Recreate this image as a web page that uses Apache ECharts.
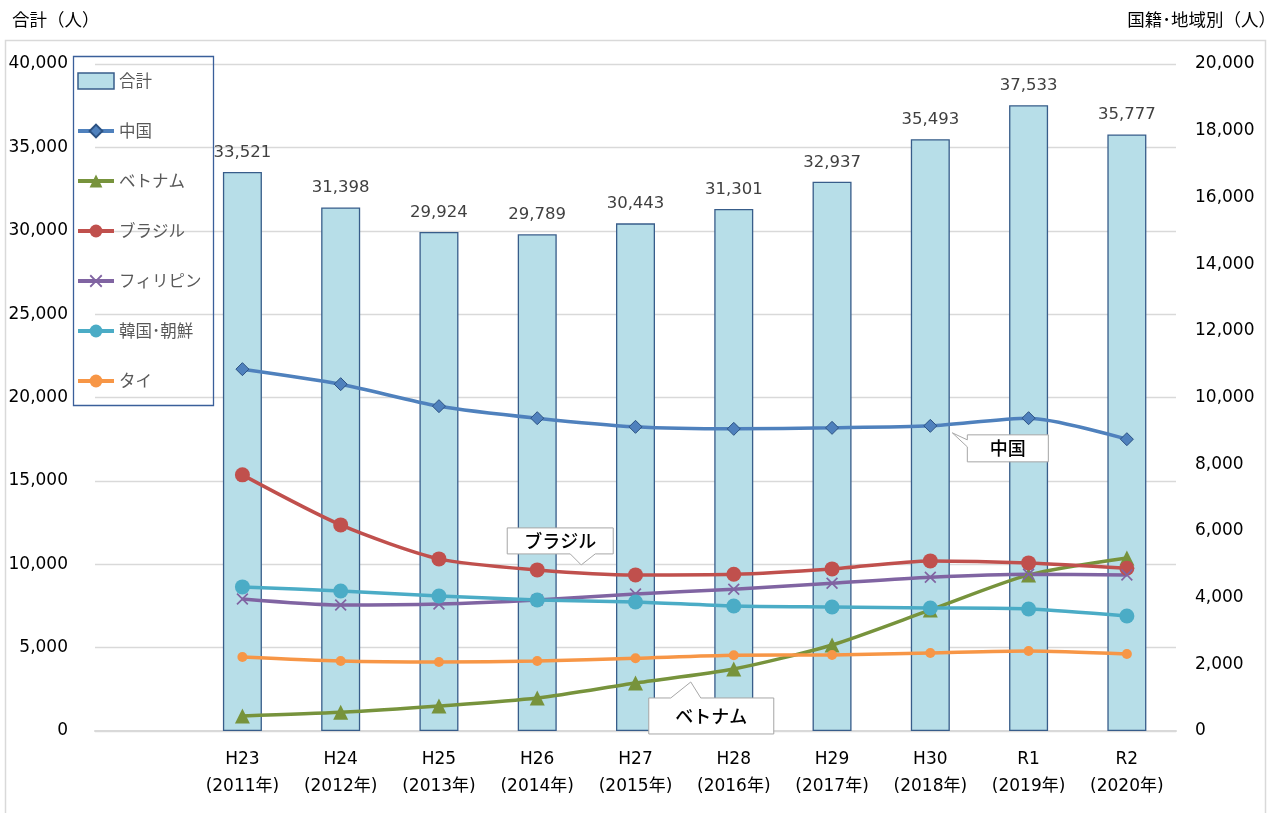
<!DOCTYPE html>
<html>
<head>
<meta charset="utf-8">
<script src="https://cdn.jsdelivr.net/npm/echarts@6/dist/echarts.min.js"></script>
<style>
html,body{margin:0;padding:0;background:#fff;}
#main{width:1283px;height:813px;}
</style>
</head>
<body>
<div id="main"></div>
<script>
// ---- data ----
const categories = ['', 'H23\n(2011年)', 'H24\n(2012年)', 'H25\n(2013年)', 'H26\n(2014年)', 'H27\n(2015年)',
  'H28\n(2016年)', 'H29\n(2017年)', 'H30\n(2018年)', 'R1\n(2019年)', 'R2\n(2020年)'];
const totals      = [null, 33521, 31398, 29924, 29789, 30443, 31301, 32937, 35493, 37533, 35777];
const china       = [null, 10850, 10400, 9740, 9380, 9120, 9060, 9090, 9150, 9380, 8750];
const vietnam     = [null, 450, 560, 750, 990, 1440, 1860, 2580, 3630, 4680, 5190];
const brazil      = [null, 7680, 6180, 5160, 4830, 4680, 4700, 4860, 5100, 5040, 4880];
const philippines = [null, 3960, 3780, 3810, 3930, 4110, 4250, 4430, 4610, 4700, 4680];
const korea       = [null, 4320, 4200, 4050, 3930, 3870, 3750, 3720, 3690, 3660, 3450];
const thai        = [null, 2220, 2100, 2070, 2100, 2180, 2270, 2280, 2340, 2400, 2310];
const leftTicks  = {min: 0, max: 40000, interval: 5000};
const rightTicks = {min: 0, max: 20000, interval: 2000};

const FONT = '"DejaVu Sans", "Noto Sans CJK JP", sans-serif';
const JP = '"Noto Sans CJK JP", "DejaVu Sans", sans-serif';
const crossPath = 'path://M0,1 L1,0 L5,4 L9,0 L10,1 L6,5 L10,9 L9,10 L5,6 L1,10 L0,9 L4,5 Z';

const chart = echarts.init(document.getElementById('main'), null, {renderer: 'canvas'});

function lineSeries(name, data, color, symbol, size, extra) {
  return Object.assign({
    name: name, type: 'line', yAxisIndex: 1, data: data,
    smooth: 0.25, symbol: symbol, symbolSize: size,
    lineStyle: {color: color, width: 3.5},
    itemStyle: {color: color},
    z: 3
  }, extra || {});
}

const option = {
  animation: false,
  textStyle: {fontFamily: FONT},
  grid: {left: 95, right: 107, top: 64, bottom: 82, containLabel: false},
  legend: {
    orient: 'vertical', left: 76, top: 72,
    itemWidth: 36, itemHeight: 16, itemGap: 32, padding: 0,
    lineStyle: {width: 4},
    textStyle: {fontFamily: JP, fontSize: 16.5, color: '#595959', lineHeight: 18},
    data: [
      {name: '合計', icon: 'rect', itemStyle: {borderWidth: 1.5}},
      '中国', 'ベトナム', 'ブラジル', 'フィリピン', '韓国･朝鮮', 'タイ'],
    z: 6
  },
  xAxis: {
    type: 'category', data: categories,
    axisLine: {lineStyle: {color: '#D9D9D9', width: 2}},
    axisTick: {show: false},
    axisLabel: {fontFamily: FONT, fontSize: 17, color: '#000', lineHeight: 27, margin: 15, interval: 0}
  },
  yAxis: [
    {type: 'value', min: leftTicks.min, max: leftTicks.max, interval: leftTicks.interval,
     axisLine: {show: false}, axisTick: {show: false},
     axisLabel: {fontSize: 17, color: '#000', margin: 27, formatter: v => v.toLocaleString('en-US')},
     splitLine: {lineStyle: {color: '#D9D9D9', width: 1.3}}},
    {type: 'value', min: rightTicks.min, max: rightTicks.max, interval: rightTicks.interval,
     axisLine: {show: false}, axisTick: {show: false}, splitLine: {show: false},
     axisLabel: {fontSize: 17, color: '#000', margin: 19, formatter: v => v.toLocaleString('en-US')}}
  ],
  series: [
    {name: '合計', type: 'bar', data: totals, barWidth: 39, yAxisIndex: 0,
     itemStyle: {color: '#B7DEE8', borderColor: '#385D8A', borderWidth: 1.3},
     label: {show: true, position: 'top', distance: 11, fontSize: 16.5, color: '#404040',
       formatter: p => p.value == null ? '' : Number(p.value).toLocaleString('en-US')},
     z: 2},
    lineSeries('中国', china, '#4F81BD', 'diamond', 13, {itemStyle: {color: '#4F81BD', borderColor: '#2C5283', borderWidth: 1}}),
    lineSeries('ベトナム', vietnam, '#77933C', 'triangle', 15),
    lineSeries('ブラジル', brazil, '#C0504D', 'circle', 15),
    lineSeries('フィリピン', philippines, '#8064A2', crossPath, 12),
    lineSeries('韓国･朝鮮', korea, '#4BACC6', 'circle', 15),
    lineSeries('タイ', thai, '#F79646', 'circle', 10)
  ]
};
chart.setOption(option);

// ---- decorations: frame, axis titles, callouts anchored to data points ----
function pt(seriesIndex, idx, arr) {
  return chart.convertToPixel({seriesIndex: seriesIndex}, [idx, arr[idx]]);
}
function callout(points, text, cx, cy) {
  return [
    {type: 'polygon', shape: {points: points}, style: {fill: '#fff', stroke: '#A6A6A6', lineWidth: 1}, z: 10},
    {type: 'text', x: cx, y: cy, style: {text: text, fontFamily: JP, fontSize: 18, fontWeight: 500, fill: '#000', align: 'center', verticalAlign: 'middle'}, z: 11}
  ];
}
const pc = pt(1, 8, china);     // China H30
const pb = pt(3, 4, brazil);    // Brazil H26
const pv = pt(2, 6, vietnam);   // Vietnam H28

const ct = [pc[0] + 22, pc[1] + 7];
const cL = ct[0] + 15, cT = ct[1] + 2, cW = 81, cH = 27;
const chinaPts = [[cL, cT], [cL + cW, cT], [cL + cW, cT + cH], [cL, cT + cH], [cL, cT + 12], ct, [cL, cT + 5]];
const bt = [pb[0] + 44, pb[1] - 5];
const bW = 106, bH = 26, bL = bt[0] - 74, bB = bt[1] - 11;
const brazilPts = [[bL, bB - bH], [bL + bW, bB - bH], [bL + bW, bB], [bt[0] + 14, bB], bt, [bt[0] - 11, bB], [bL, bB]];
const vt = [pv[0] - 43, pv[1] + 13];
const vW = 125, vH = 36, vL = vt[0] - 42, vT = vt[1] + 16;
const vietPts = [[vL, vT], [vt[0] - 20, vT], vt, [vt[0] + 10, vT], [vL + vW, vT], [vL + vW, vT + vH], [vL, vT + vH]];

chart.setOption({
  graphic: [
    {type: 'rect', shape: {x: 5.5, y: 40.5, width: 1260, height: 790}, style: {fill: 'none', stroke: '#D9D9D9', lineWidth: 1.5}, z: 0, silent: true},
    {type: 'rect', shape: {x: 73.5, y: 56.5, width: 140, height: 349}, style: {fill: 'none', stroke: '#3A5F9A', lineWidth: 1.3}, z: 5, silent: true},
    {type: 'text', x: 12, y: 19, style: {text: '合計（人）', fontFamily: JP, fontSize: 17.5, fill: '#000', verticalAlign: 'middle'}},
    {type: 'text', x: 1276, y: 19, style: {text: '国籍･地域別（人）', fontFamily: JP, fontSize: 17.5, fill: '#000', align: 'right', verticalAlign: 'middle'}},
    ...callout(chinaPts, '中国', cL + cW / 2, cT + cH / 2),
    ...callout(brazilPts, 'ブラジル', bL + bW / 2, bB - bH / 2),
    ...callout(vietPts, 'ベトナム', vL + vW / 2, vT + vH / 2)
  ]
});
</script>
</body>
</html>
